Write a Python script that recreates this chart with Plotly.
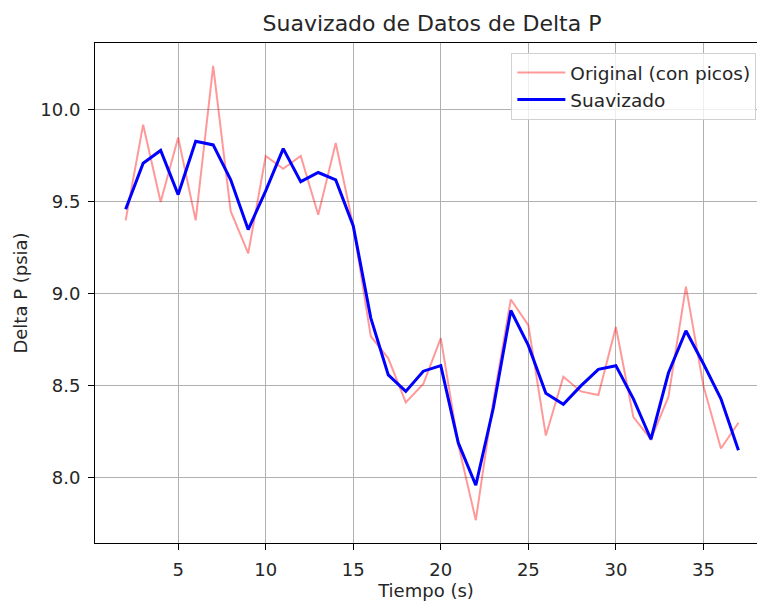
import plotly.graph_objects as go

tiempo = list(range(2, 38))
original = [9.40, 9.92, 9.50, 9.85, 9.40, 10.24, 9.45, 9.22, 9.75, 9.68, 9.75, 9.43, 9.82, 9.37,
            8.77, 8.65, 8.41, 8.51, 8.76, 8.18, 7.77, 8.42, 8.97, 8.83, 8.23, 8.55, 8.47, 8.45,
            8.82, 8.33, 8.21, 8.44, 9.04, 8.50, 8.16, 8.30]
suavizado = [9.46, 9.71, 9.78, 9.54, 9.83, 9.81, 9.62, 9.35, 9.56, 9.79, 9.61, 9.66, 9.62, 9.37,
             8.87, 8.56, 8.47, 8.58, 8.61, 8.19, 7.96, 8.38, 8.91, 8.72, 8.46, 8.40, 8.50, 8.59,
             8.61, 8.43, 8.21, 8.57, 8.80, 8.62, 8.43, 8.15]
x_ticks = [5, 10, 15, 20, 25, 30, 35]
y_ticks = [8.0, 8.5, 9.0, 9.5, 10.0]

FONT = "DejaVu Sans"
TXT = "#262626"

fig = go.Figure()
fig.add_trace(go.Scatter(x=tiempo, y=original, mode="lines", name="Original (con picos)",
                         line=dict(color="rgba(255,0,0,0.4)", width=2)))
fig.add_trace(go.Scatter(x=tiempo, y=suavizado, mode="lines", name="Suavizado",
                         line=dict(color="#0000ff", width=3)))

fig.update_layout(
    width=757, height=605,
    margin=dict(l=95, r=0, t=43, b=62, autoexpand=False),
    paper_bgcolor="white", plot_bgcolor="white",
    font=dict(family=FONT, size=18, color=TXT),
    title=dict(text="Suavizado de Datos de Delta P", x=(95 + 769) / 2 / 757, xanchor="center",
               y=1 - 23 / 605, yanchor="middle", yref="container",
               font=dict(family=FONT, size=22, color=TXT)),
    legend=dict(x=0.999, xanchor="right", y=0.98, yanchor="top",
                bgcolor="rgba(255,255,255,0.8)", bordercolor="#d0d0d0", borderwidth=1,
                font=dict(family=FONT, size=18.5, color=TXT),
                itemwidth=48, tracegroupgap=0),
    showlegend=True,
)
fig.update_xaxes(
    range=[0.25, 38.06], tickvals=x_ticks, ticks="outside", ticklen=6, tickwidth=1.1,
    tickcolor="black", showline=True, linecolor="black", linewidth=1.1, mirror=True,
    showgrid=True, gridcolor="#b0b0b0", gridwidth=1.1, zeroline=False, automargin=False,
    ticklabelstandoff=4,
    title=dict(text="Tiempo (s)", font=dict(family=FONT, size=18, color=TXT), standoff=5),
    tickfont=dict(family=FONT, size=18, color=TXT),
)
fig.update_yaxes(
    range=[7.646, 10.364], tickvals=y_ticks, tickformat=".1f", ticks="outside", ticklen=6,
    tickwidth=1.1, tickcolor="black", showline=True, linecolor="black", linewidth=1.1,
    showgrid=True, gridcolor="#b0b0b0", gridwidth=1.1, zeroline=False, automargin=False,
    ticklabelstandoff=4,
    title=dict(text="Delta P (psia)", font=dict(family=FONT, size=18, color=TXT), standoff=7),
    tickfont=dict(family=FONT, size=18, color=TXT),
)

fig.write_html("out.html", config={"displayModeBar": False},
               post_script="document.body.style.margin='0';document.body.style.overflow='hidden';")
